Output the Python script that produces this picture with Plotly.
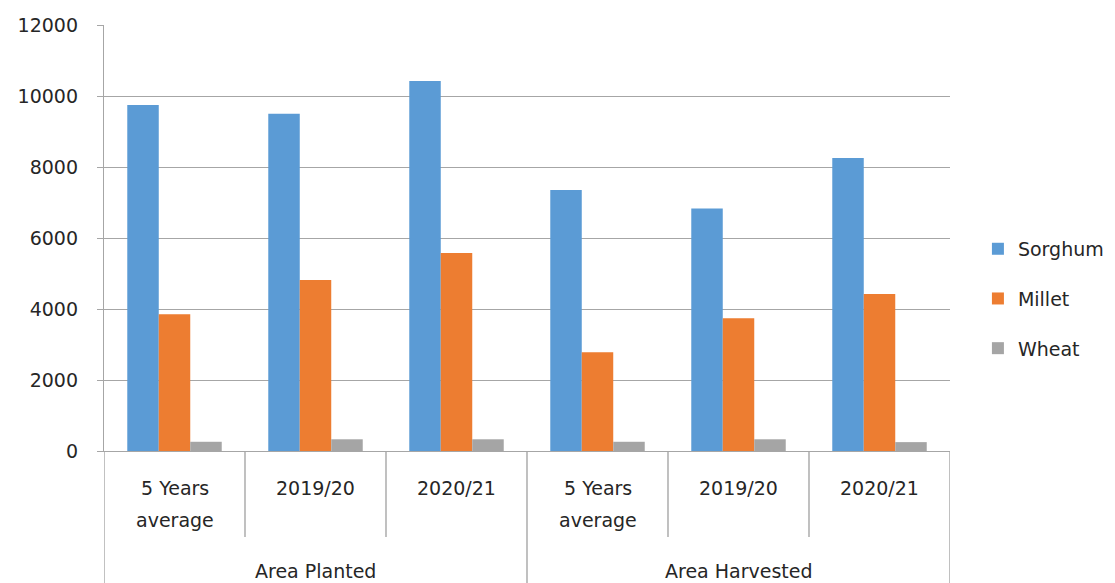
import plotly.graph_objects as go

# Categories: (group, period)
groups = ["Area Planted", "Area Planted", "Area Planted",
          "Area Harvested", "Area Harvested", "Area Harvested"]
periods = ["5 Years average", "2019/20", "2020/21",
           "5 Years average", "2019/20", "2020/21"]
period_lines = [["5 Years", "average"], ["2019/20"], ["2020/21"],
                ["5 Years", "average"], ["2019/20"], ["2020/21"]]
group_labels = ["Area Planted", "Area Harvested"]

sorghum = [9750, 9500, 10420, 7350, 6830, 8250]
millet = [3850, 4820, 5580, 2780, 3740, 4420]
wheat = [260, 330, 330, 260, 330, 250]

y_ticks = [0, 2000, 4000, 6000, 8000, 10000, 12000]
y_tick_text = [str(v) for v in y_ticks]

cats = [f"{g} | {p}" for g, p in zip(groups, periods)]

series = [("Sorghum", sorghum, "#5B9BD5"),
          ("Millet", millet, "#ED7D31"),
          ("Wheat", wheat, "#A5A5A5")]

FONT = "DejaVu Sans, Liberation Sans, sans-serif"
FS = 19
TXT = "#262626"
GRID = "#A6A6A6"

fig = go.Figure()
for name, vals, color in series:
    fig.add_trace(go.Bar(
        x=cats, y=vals, name=name, legendgroup=name,
        marker=dict(color=color, line=dict(width=0)),
    ))

# Frame of the two-level category axis
shapes = []
for i in range(7):
    xpos = i - 0.5
    bottom = -0.33 if i in (0, 3, 6) else -0.202
    shapes.append(dict(type="line", xref="x", yref="paper",
                       x0=xpos, x1=xpos, y0=0, y1=bottom,
                       line=dict(color=GRID, width=1.4)))

annotations = []
for i, lines in enumerate(period_lines):
    for j, txt in enumerate(lines):
        annotations.append(dict(
            x=i, xref="x", y=-0.087 - j * 0.075, yref="paper",
            text=txt, showarrow=False, xanchor="center", yanchor="middle",
            font=dict(family=FONT, size=FS, color=TXT)))
for k, g in enumerate(group_labels):
    annotations.append(dict(
        x=1 + 3 * k, xref="x", y=-0.282, yref="paper",
        text=g, showarrow=False, xanchor="center", yanchor="middle",
        font=dict(family=FONT, size=FS, color=TXT)))

fig.update_layout(
    width=1115, height=583,
    margin=dict(l=104, r=165, t=25, b=132, autoexpand=False),
    paper_bgcolor="white", plot_bgcolor="white",
    barmode="group", bargap=0.33, bargroupgap=0,
    font=dict(family=FONT, size=FS, color=TXT),
    shapes=shapes, annotations=annotations,
    legend=dict(x=1.033, y=0.357, xanchor="left", yanchor="middle",
                traceorder="grouped", tracegroupgap=22,
                font=dict(family=FONT, size=FS, color=TXT),
                itemwidth=30, bgcolor="rgba(0,0,0,0)"),
    xaxis=dict(showticklabels=False, ticks="", showgrid=False,
               showline=True, linecolor=GRID, linewidth=1.4,
               range=[-0.5, 5.5]),
    yaxis=dict(range=[0, 12000], tickvals=y_ticks, ticktext=y_tick_text,
               showgrid=True, gridcolor=GRID, gridwidth=1.4,
               showline=True, linecolor=GRID, linewidth=1.4,
               ticks="outside", ticklen=6, tickcolor=GRID, tickwidth=1.4,
               ticklabelstandoff=15, zeroline=False,
               tickfont=dict(family=FONT, size=FS, color=TXT)),
)

fig.write_html("out.html")
